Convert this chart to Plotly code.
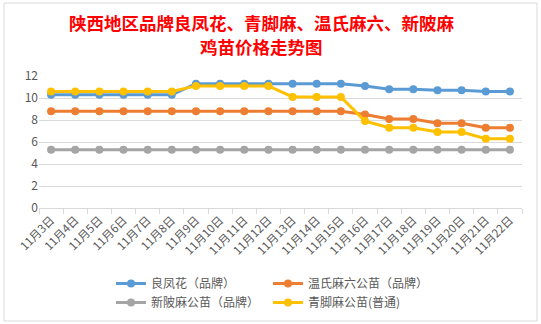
import plotly.graph_objects as go

dates = [f"11月{d}日" for d in range(3, 23)]
liangfenghua = [10.3, 10.3, 10.3, 10.3, 10.3, 10.3, 11.3, 11.3, 11.3, 11.3, 11.3, 11.3, 11.3, 11.1, 10.8, 10.8, 10.7, 10.7, 10.6, 10.6]
wenshi = [8.8, 8.8, 8.8, 8.8, 8.8, 8.8, 8.8, 8.8, 8.8, 8.8, 8.8, 8.8, 8.8, 8.5, 8.1, 8.1, 7.7, 7.7, 7.3, 7.3]
xinpima = [5.3] * 20
qingjiaoma = [10.6, 10.6, 10.6, 10.6, 10.6, 10.6, 11.1, 11.1, 11.1, 11.1, 10.1, 10.1, 10.1, 7.9, 7.3, 7.3, 6.9, 6.9, 6.3, 6.3]
title_lines = ["陕西地区品牌良凤花、青脚麻、温氏麻六、新陂麻", "鸡苗价格走势图"]

W, H = 541, 324
L, R, T, B = 39, 19, 76, 116
pw, ph = W - L - R, H - T - B

font = "Noto Sans CJK SC, sans-serif"
fig = go.Figure()
series = [
    ("良凤花（品牌）", liangfenghua, "#5B9BD5", "legend"),
    ("温氏麻六公苗（品牌）", wenshi, "#ED7D31", "legend2"),
    ("新陂麻公苗（品牌）", xinpima, "#A5A5A5", "legend"),
    ("青脚麻公苗(普通)", qingjiaoma, "#FFC000", "legend2"),
]
for name, vals, col, lg in series:
    fig.add_trace(go.Scatter(x=dates, y=vals, name=name, mode="lines+markers",
                             line=dict(color=col, width=3), marker=dict(color=col, size=8),
                             legend=lg))

def cx(x):
    return x / W
def cy(y):
    return 1 - y / H
def px(x):
    return (x - L) / pw
def py(y):
    return (H - B - y) / ph

leg_common = dict(yanchor="middle", xanchor="left", orientation="v", xref="container", yref="container",
                  font=dict(size=12, color="#595959"), tracegroupgap=0, itemwidth=30,
                  bgcolor="rgba(0,0,0,0)")
fig.update_layout(
    width=W, height=H,
    margin=dict(l=L, r=R, t=T, b=B, autoexpand=False),
    paper_bgcolor="white", plot_bgcolor="white",
    font=dict(family=font, color="#595959", size=11),
    xaxis=dict(range=[-0.5, len(dates) - 0.5], showgrid=False, showline=True, linecolor="#D9D9D9",
               linewidth=1, automargin=False,
               ticks="outside", tickson="boundaries", ticklen=5, tickcolor="#D9D9D9",
               tickangle=-45, tickfont=dict(size=11.5, color="#595959")),
    yaxis=dict(range=[0, 12], dtick=2, showgrid=True, gridcolor="#D9D9D9", gridwidth=1, automargin=False,
               zeroline=False, showline=False, tickfont=dict(size=12, color="#595959")),
    legend=dict(x=cx(111), y=cy(293), **leg_common),
    legend2=dict(x=cx(268), y=cy(293), **leg_common),
    showlegend=True,
)
for txt, yc in zip(title_lines, [23, 46]):
    fig.add_annotation(text=txt, xref="paper", yref="paper", x=px(261), y=py(yc),
                       xanchor="center", yanchor="middle", showarrow=False,
                       font=dict(family=font, size=17.5, color="#FF0000", weight="bold"))
fig.add_shape(type="rect", xref="paper", yref="paper",
              x0=px(4), x1=px(537), y0=py(321), y1=py(3),
              line=dict(color="#D9D9D9", width=1), fillcolor="rgba(0,0,0,0)", layer="below")
fig.write_html("out.html")
